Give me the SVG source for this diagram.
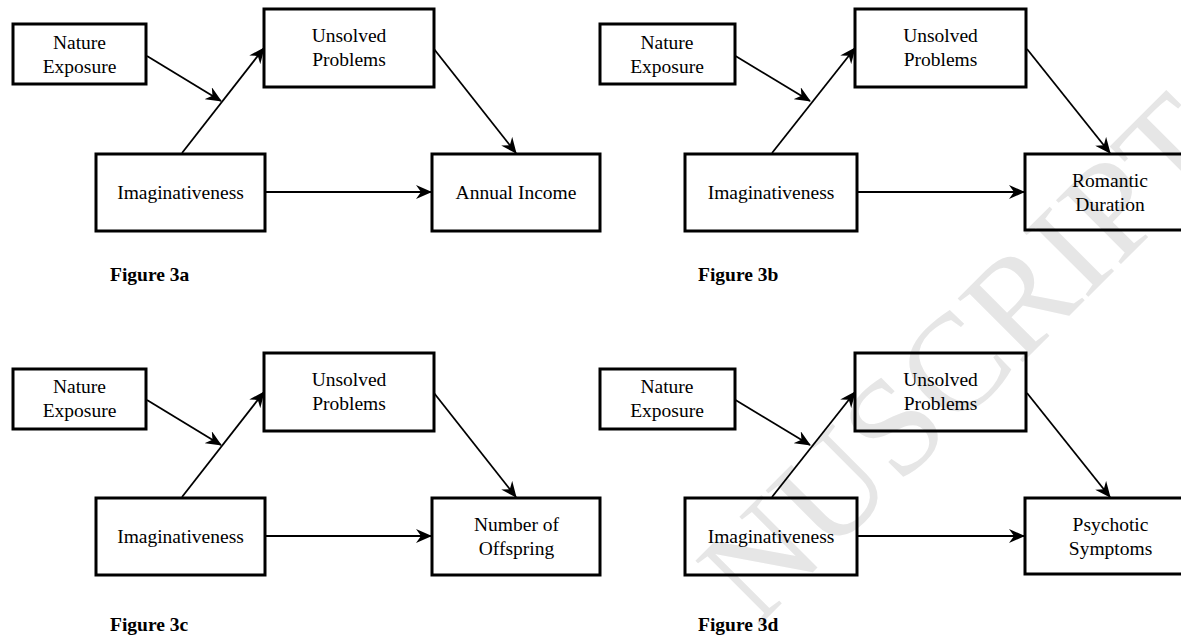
<svg xmlns="http://www.w3.org/2000/svg" width="1181" height="638" viewBox="0 0 1181 638">
  <style>
    .box { fill: none; stroke: #000; stroke-width: 3; }
    .lbl { font-family: "Liberation Serif", "Times New Roman", serif; font-size: 19.5px; text-anchor: middle; fill: #000; }
    .cap { font-family: "Liberation Serif", "Times New Roman", serif; font-size: 19.5px; font-weight: bold; fill: #000; }
    .edge { fill: none; stroke: #000; stroke-width: 1.8; marker-end: url(#arr); }
    .wm { font-family: "Liberation Serif", "Times New Roman", serif; font-size: 139px; fill: #e6e6e6; }
  </style>
  <defs>
    <marker id="arr" markerUnits="userSpaceOnUse" markerWidth="16" markerHeight="14" viewBox="0 0 16 14" refX="15" refY="7" orient="auto">
      <path d="M0,0 L16,7 L0,14 L5,7 Z" fill="#000"/>
    </marker>
  </defs>
  <rect width="1181" height="638" fill="#fff"/>
  <text class="wm" transform="translate(757,628) rotate(-45)">NUSCRIPT</text>

  <!-- Figure 3a -->
  <g id="fig3a">
    <g id="a-nature"><rect class="box" x="13" y="24" width="133" height="60"/><text class="lbl" x="79.5" y="49">Nature</text><text class="lbl" x="79.5" y="72.5">Exposure</text></g>
    <g id="a-unsolved"><rect class="box" x="264" y="9" width="170" height="78"/><text class="lbl" x="349" y="42.3">Unsolved</text><text class="lbl" x="349" y="66">Problems</text></g>
    <g id="a-imag"><rect class="box" x="96" y="154" width="169" height="77"/><text class="lbl" x="180.5" y="199">Imaginativeness</text></g>
    <g id="a-outcome"><rect class="box" x="432" y="154" width="168" height="77"/><text class="lbl" x="516" y="199">Annual Income</text></g>
    <g id="a-connectors">
      <line class="edge" x1="147" y1="56" x2="221" y2="101"/>
      <line class="edge" x1="182" y1="153" x2="264" y2="48"/>
      <line class="edge" x1="434" y1="49" x2="516" y2="153"/>
      <line class="edge" x1="265" y1="192" x2="431" y2="192"/>
    </g>
    <text class="cap" x="110" y="281">Figure 3a</text>
  </g>

  <!-- Figure 3b -->
  <g id="fig3b">
    <g id="b-nature"><rect class="box" x="600" y="24" width="135" height="60"/><text class="lbl" x="667" y="49">Nature</text><text class="lbl" x="667" y="72.5">Exposure</text></g>
    <g id="b-unsolved"><rect class="box" x="855" y="9" width="171" height="78"/><text class="lbl" x="940.5" y="42.3">Unsolved</text><text class="lbl" x="940.5" y="66">Problems</text></g>
    <g id="b-imag"><rect class="box" x="685" y="154" width="172" height="77"/><text class="lbl" x="771" y="199">Imaginativeness</text></g>
    <g id="b-outcome"><rect class="box" x="1025" y="154" width="170" height="76"/><text class="lbl" x="1110" y="187.3">Romantic</text><text class="lbl" x="1110" y="210.7">Duration</text></g>
    <g id="b-connectors">
      <line class="edge" x1="735.5" y1="56" x2="810" y2="101"/>
      <line class="edge" x1="772" y1="153" x2="855" y2="48"/>
      <line class="edge" x1="1027" y1="49" x2="1110" y2="153"/>
      <line class="edge" x1="857" y1="192" x2="1024" y2="192"/>
    </g>
    <text class="cap" x="698" y="281">Figure 3b</text>
  </g>

  <!-- Figure 3c -->
  <g id="fig3c">
    <g id="c-nature"><rect class="box" x="13" y="369" width="133" height="60"/><text class="lbl" x="79.5" y="393">Nature</text><text class="lbl" x="79.5" y="416.5">Exposure</text></g>
    <g id="c-unsolved"><rect class="box" x="264" y="353" width="170" height="78"/><text class="lbl" x="349" y="386.3">Unsolved</text><text class="lbl" x="349" y="410">Problems</text></g>
    <g id="c-imag"><rect class="box" x="96" y="498" width="169" height="77"/><text class="lbl" x="180.5" y="543">Imaginativeness</text></g>
    <g id="c-outcome"><rect class="box" x="432" y="498" width="168" height="77"/><text class="lbl" x="516.5" y="531">Number of</text><text class="lbl" x="516.5" y="555">Offspring</text></g>
    <g id="c-connectors">
      <line class="edge" x1="147" y1="400" x2="221" y2="445"/>
      <line class="edge" x1="182" y1="497" x2="264" y2="392"/>
      <line class="edge" x1="434" y1="393" x2="516" y2="497"/>
      <line class="edge" x1="265" y1="536" x2="431" y2="536"/>
    </g>
    <text class="cap" x="110" y="631">Figure 3c</text>
  </g>

  <!-- Figure 3d -->
  <g id="fig3d">
    <g id="d-nature"><rect class="box" x="600" y="369" width="135" height="60"/><text class="lbl" x="667" y="393">Nature</text><text class="lbl" x="667" y="416.5">Exposure</text></g>
    <g id="d-unsolved"><rect class="box" x="855" y="353" width="171" height="78"/><text class="lbl" x="940.5" y="386.3">Unsolved</text><text class="lbl" x="940.5" y="410">Problems</text></g>
    <g id="d-imag"><rect class="box" x="685" y="498" width="172" height="77"/><text class="lbl" x="771" y="543">Imaginativeness</text></g>
    <g id="d-outcome"><rect class="box" x="1025" y="498" width="170" height="76"/><text class="lbl" x="1110.5" y="531">Psychotic</text><text class="lbl" x="1110.5" y="555">Symptoms</text></g>
    <g id="d-connectors">
      <line class="edge" x1="735.5" y1="400" x2="810" y2="445"/>
      <line class="edge" x1="772" y1="497" x2="855" y2="392"/>
      <line class="edge" x1="1027" y1="393" x2="1110" y2="497"/>
      <line class="edge" x1="857" y1="536" x2="1024" y2="536"/>
    </g>
    <text class="cap" x="698" y="631">Figure 3d</text>
  </g>
</svg>
